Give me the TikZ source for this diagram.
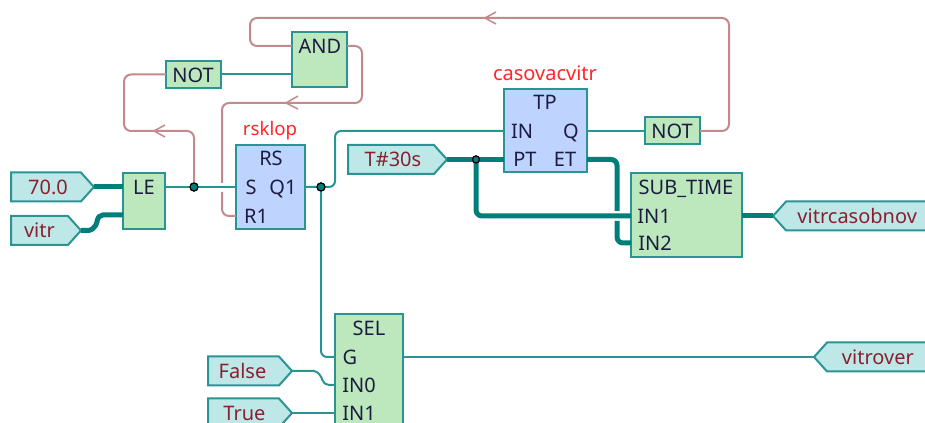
\documentclass[tikz,border=0pt]{standalone}
\usepackage{fontspec}
\setmainfont{Noto Sans}
\usetikzlibrary{shapes.symbols}
\def\px{0.75pt}
\definecolor{blockgreen}{HTML}{BDE8BD}
\definecolor{blockblue}{HTML}{BFD3FF}
\definecolor{tagfill}{HTML}{BEE8E8}
\definecolor{edge}{HTML}{2A9494}
\definecolor{thickteal}{HTML}{007F7A}
\definecolor{fb}{HTML}{C28A8A}
\definecolor{inktext}{HTML}{1C1C40}
\definecolor{tagtext}{HTML}{8A1F30}
\tikzset{
  every node/.style={font=\fontsize{15pt}{18pt}\selectfont},
  block/.style={draw=edge,line width=2*\px,inner sep=0,outer sep=0,anchor=north west},
  greenblock/.style={block,fill=blockgreen},
  blueblock/.style={block,fill=blockblue},
  pin/.style={inner sep=0,outer sep=0,text=inktext,text height=11pt,text depth=0pt},
  title/.style={inner sep=0,text=red!85!white,text height=11pt,text depth=2pt},
  tagbase/.style={signal,draw=edge,fill=tagfill,line width=2*\px,inner sep=0,outer sep=0,text=tagtext,
    text height=11pt,text depth=0pt,signal pointer angle=96,minimum height=29*\px},
  tagright/.style={tagbase,signal to=east,anchor=east},
  tagleft/.style={tagbase,signal to=west,anchor=west},
  thin wire/.style={draw=edge,line width=2*\px,rounded corners=6*\px},
  thick wire/.style={draw=thickteal,line width=5*\px,rounded corners=6*\px},
  back wire/.style={draw=fb,line width=2*\px,rounded corners=7*\px},
  back tip/.style={draw=fb,line width=1.5*\px},
  junction/.style={circle,draw=black,fill=thickteal,line width=1.2*\px,inner sep=0,outer sep=0,minimum size=8*\px},
}
\begin{document}
\begin{tikzpicture}[x=0.75pt,y=-0.75pt]
\useasboundingbox (0,0) rectangle (925,423);
% tags
\node[tagright,minimum width=83*\px] (t70) at (94,187) {\hspace*{3pt}70.0};
\node[tagright,minimum width=70*\px] (tvitr) at (81,230.5) {vitr};
\node[tagright,minimum width=84*\px] (tfalse) at (292,371) {False\hspace*{1.5pt}};
\node[tagright,minimum width=84*\px] (ttrue) at (292,413) {\hspace*{1.5pt}True};
\node[tagright,minimum width=99*\px] (tt30) at (447,159.5) {\hspace*{3pt}T\#30s};
\node[tagleft,minimum width=190*\px] (tcas) at (773,216) {vitrcasobnov\hspace*{26pt}};
\node[tagleft,minimum width=150*\px] (tover) at (814,357) {vitrover\hspace*{26.5pt}};
% blocks
\node[greenblock,minimum width=42*\px,minimum height=56*\px] (le) at (123,173) {};
\node[pin] at (144,187) {LE};
\node[blueblock,minimum width=69*\px,minimum height=84*\px] (rs) at (236,145) {};
\node[pin] at (271,158) {RS};
\node[pin] (rsS) at (251,187) {S};
\node[pin] (rsQ) at (283,187) {Q1};
\node[pin] (rsR) at (256,216) {R1};
\node[title,font=\fontsize{14pt}{17pt}\selectfont] (rsname) at (270,130) {rsklop};
\node[greenblock,minimum width=55*\px,minimum height=55*\px] (and) at (292,32) {};
\node[pin] at (320,46) {AND};
\node[greenblock,minimum width=55*\px,minimum height=27*\px] (notA) at (166,61) {};
\node[pin] at (193,75) {NOT};
\node[blueblock,minimum width=83*\px,minimum height=83*\px] (tp) at (504,89) {};
\node[pin] at (545,102) {TP};
\node[pin] (tpIN) at (522,131) {IN};
\node[pin] (tpQ) at (571,131) {Q};
\node[pin] (tpPT) at (525,159.5) {PT};
\node[pin] (tpET) at (565,159.5) {ET};
\node[title] (tpname) at (545,75) {casovacvitr};
\node[greenblock,minimum width=55*\px,minimum height=27*\px] (notB) at (645,117.5) {};
\node[pin] at (672,131) {NOT};
\node[greenblock,minimum width=111*\px,minimum height=84*\px] (sub) at (631,173) {};
\node[pin] (subT) at (686,187) {SUB\_TIME};
\node[pin] (subA) at (654,216) {IN1};
\node[pin] (subB) at (655,243) {IN2};
\node[greenblock,minimum width=68*\px,minimum height=160*\px] (sel) at (335,314) {};
\node[pin] at (369,328) {SEL};
\node[pin] (selG) at (350,357) {G};
\node[pin] (selA) at (359,385) {IN0};
\node[pin] (selB) at (359,413) {IN1};
% junction points
\node[junction] (j1) at (194,187) {};
\node[junction] (j2) at (321,187) {};
\node[junction,minimum size=7*\px] (j3) at (476,159.5) {};
% thick wires
\draw[thick wire] (t70.east) -- (le.west |- t70.east);
\draw[thick wire,rounded corners=2*\px] (tvitr.east) -- (91,230.5) -- (97,224) -- (97,219) -- (101,215) -- (123,215);
\draw[thick wire] (tt30.east) -- (tpPT -| tp.west);
\draw[thick wire] (j3.center) -- (476,216) -- (subA -| sub.west);
\draw[thick wire] (tpET -| tp.east) -- (617,159.5) -- (617,211);
\draw[thick wire] (617,221) -- (617,243) -- (subB -| sub.west);
\draw[thick wire] (sub.east |- tcas.west) -- (tcas.west);
% thin wires
\draw[thin wire] (le.east |- t70.east) -- (j1.center) -- (rsS -| rs.west);
\draw[thin wire] (rsQ -| rs.east) -- (j2.center) -- (335,187) -- (335,131) -- (tpIN -| tp.west);
\draw[thin wire] (j2.center) -- (321,357) -- (selG -| sel.west);
\draw[thin wire,rounded corners=2*\px] (tfalse.east) -- (316,371) -- (321,376) -- (323,382) -- (327,385) -- (selA -| sel.west);
\draw[thin wire] (ttrue.east) -- (selB -| sel.west);
\draw[thin wire] (sel.east |- selG) -- (tover.west);
\draw[thin wire] (notA.east) -- (and.west |- notA.east);
\draw[thin wire] (tpQ -| tp.east) -- (notB.west);
% feedback wires
\draw[back wire] (notB.east) -- (729,131) -- (729,18) -- (250,18) -- (250,46) -- (and.west |- 0,46);
\draw[back wire] (and.east |- 0,46) -- (362,46) -- (362,103) -- (222,103) -- (222,183);
\draw[back wire] (222,192) -- (222,216) -- (rsR -| rs.west);
\draw[back wire] (notA.west) -- (124,74.5) -- (124,131) -- (194,131) -- (j1.center);
\draw[back tip] (496,12) -- (485,18) -- (496,24);
\draw[back tip] (298,96) -- (286,103) -- (298,109);
\draw[back tip] (165,125) -- (154,131) -- (165,137);
% redraw junctions over the wires
\fill[thickteal,draw=black,line width=1.2*\px] (j1) circle (4*\px);
\fill[thickteal,draw=black,line width=1.2*\px] (j2) circle (4*\px);
\fill[thickteal,draw=black,line width=1.2*\px] (j3) circle (3.5*\px);
\end{tikzpicture}
\end{document}
